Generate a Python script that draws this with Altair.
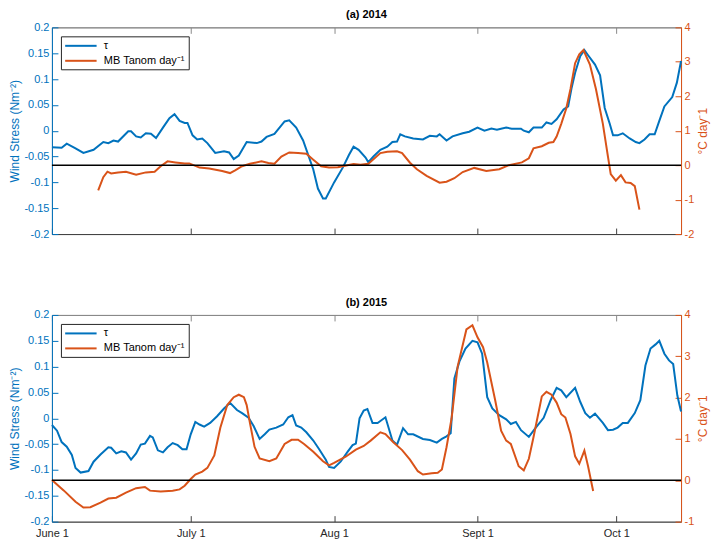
import altair as alt
import pandas as pd

BLUE = "#0072BD"
ORANGE = "#D95319"
AXC = "#404040"
TOPC = "#8a8a8a"
FONT = "Liberation Sans"

x_ticks = [0, 30, 61, 92, 122]
x_labels = ["June 1", "July 1", "Aug 1", "Sept 1", "Oct 1"]
x_span = [0, 136]
tau_ticks = [-0.2, -0.15, -0.1, -0.05, 0, 0.05, 0.1, 0.15, 0.2]
series_names = ["τ", "MB Tanom day⁻¹"]
zero_name = "zero"
zero_day = [0, 136]
zero_val = [0, 0]

# ---- (a) 2014 ----
tau14_day = [0, 2.1, 3.2, 5.1, 6.8, 9.0, 11.1, 12.2, 13.3, 14.3, 16.5, 17.1, 18.2, 19.2, 20.3, 21.4,
             22.5, 24, 25.4, 26.5, 27.6, 28.7, 29.3, 30.4, 31.4, 32.5, 33.6, 35.3, 37.2, 38.3, 39.3,
             40.4, 42.1, 44.3, 45.3, 46.4, 48.1, 50.3, 51.3, 52.8, 54.3, 56.5, 57.5, 58.6, 59.2, 61,
             62.9, 64.2, 65.2, 66.3, 67.8, 68.4, 69.5, 71, 72.5, 73.6, 74.6, 75.3, 76.3, 78.1, 80.2,
             81.7, 83.2, 83.8, 85.3, 86.6, 88.8, 90.2, 92, 93.5, 95, 96.2, 98.2, 99.4, 101.4, 102,
             103.1, 104.1, 105.9, 106.9, 108, 109.1, 110.6, 111.6, 112.3, 113.1, 114.2, 115.1, 115.9,
             117.4, 118.5, 119.5, 120.6, 121.3, 122.3, 123.4, 124.9, 126.2, 127, 128.1, 129.2, 130.3,
             131.3, 132.4, 134.1, 135.1, 136]
tau14_val = [-0.032, -0.033, -0.025, -0.034, -0.043, -0.037, -0.022, -0.024, -0.019, -0.021, -0.001,
             -0.001, -0.011, -0.013, -0.005, -0.006, -0.014, 0.006, 0.024, 0.032, 0.019, 0.015, 0.015,
             -0.009, -0.017, -0.015, -0.024, -0.043, -0.040, -0.042, -0.055, -0.048, -0.022, -0.024,
             -0.021, -0.012, -0.006, 0.018, 0.020, 0.006, -0.019, -0.075, -0.112, -0.131, -0.131,
             -0.100, -0.071, -0.047, -0.031, -0.037, -0.052, -0.061, -0.050, -0.037, -0.031, -0.022,
             -0.021, -0.007, -0.011, -0.015, -0.017, -0.010, -0.011, -0.007, -0.019, -0.011, -0.005,
             -0.002, 0.006, 0.000, 0.004, 0.002, 0.006, 0.004, 0.004, 0.000, -0.003, 0.006, 0.006,
             0.016, 0.013, 0.022, 0.041, 0.047, 0.081, 0.112, 0.144, 0.156, 0.146, 0.128, 0.107, 0.044,
             0.013, -0.009, -0.009, -0.005, -0.015, -0.022, -0.024, -0.017, -0.007, -0.007, 0.019,
             0.047, 0.065, 0.093, 0.135]
mb14_day = [10, 11.1, 12, 12.8, 14.3, 16, 18.2, 20.3, 22.2, 23.5, 25, 26.7, 28.7, 29.7, 31.9, 34,
            36.8, 38.5, 39.6, 41.1, 42.8, 45.3, 46.8, 48.1, 49.6, 51.3, 53.2, 55, 56.5, 58.2, 59.9,
            61.8, 63.9, 65.2, 66.7, 68.4, 71, 72.5, 74.6, 75.7, 77.4, 78.9, 81, 83.8, 85.3, 87, 88.8,
            91.3, 93.9, 96.7, 98.8, 101.6, 103.1, 104.1, 105.9, 107.4, 108.4, 109.1, 110.1, 111.2,
            112.1, 113.1, 114.0, 114.9, 116.3, 117.6, 119.1, 120.2, 120.8, 121.9, 123, 124, 125.1,
            126, 127]
mb14_val = [-0.73, -0.35, -0.19, -0.24, -0.21, -0.19, -0.28, -0.21, -0.19, -0.03, 0.11, 0.08, 0.05,
            0.05, -0.07, -0.10, -0.17, -0.23, -0.15, -0.03, 0.04, 0.11, 0.06, 0.04, 0.25, 0.37, 0.35,
            0.33, 0.16, -0.03, -0.07, -0.06, 0.0, 0.03, 0.01, 0.04, 0.35, 0.39, 0.40, 0.35, 0.07, -0.12,
            -0.31, -0.51, -0.48, -0.38, -0.20, -0.08, -0.17, -0.12, 0.0, 0.08, 0.20, 0.49, 0.55, 0.65,
            0.67, 0.83, 1.20, 1.65, 2.21, 2.96, 3.22, 3.34, 2.92, 2.21, 1.20, 0.25, -0.26, -0.45, -0.29,
            -0.50, -0.52, -0.61, -1.29]

# ---- (b) 2015 ----
tau15_day = [0, 1.1, 2.1, 3.2, 4.3, 5.1, 6.2, 7.9, 9, 10.5, 12.2, 12.8, 13.9, 15, 16, 17.1, 18.2,
             19.2, 20.1, 21.2, 21.8, 22.9, 24, 25, 26.1, 27.2, 28.2, 29.1, 30, 31, 31.9, 32.9, 34.2,
             35.7, 37.2, 38.5, 40, 41.1, 42.5, 43.6, 44.9, 46, 47, 48.5, 50, 51.1, 52, 52.8, 53.9, 55,
             56.5, 57.7, 59.2, 59.9, 61, 62.4, 63.9, 65, 65.7, 66.5, 67.4, 68.2, 69.3, 70.4, 72.1,
             73.6, 74.6, 75.9, 77, 78.1, 80.2, 81.7, 83.2, 84.3, 85.3, 86.2, 87, 88.1, 89.4, 90.9, 92,
             93, 94.1, 95.2, 96.7, 98.2, 99.2, 100.3, 101.4, 103.1, 104.6, 106.3, 107.8, 109.1, 110.1,
             111.2, 113.1, 114.2, 115.3, 116.3, 117.4, 119.1, 120.2, 121.3, 122.3, 123.4, 124.5, 126,
             127.2, 128.3, 129.4, 130.5, 131.3, 132.4, 133.4, 134.3, 135.2, 136]
tau15_val = [-0.013, -0.024, -0.046, -0.055, -0.071, -0.096, -0.105, -0.102, -0.084, -0.070, -0.056,
             -0.057, -0.068, -0.064, -0.066, -0.080, -0.068, -0.051, -0.049, -0.034, -0.037, -0.062,
             -0.066, -0.056, -0.048, -0.052, -0.060, -0.060, -0.031, -0.007, -0.012, -0.016, -0.009,
             0.004, 0.019, 0.030, 0.016, 0.010, 0.001, -0.015, -0.040, -0.031, -0.022, -0.018, -0.012,
             0.002, 0.006, -0.014, -0.018, -0.027, -0.043, -0.059, -0.080, -0.094, -0.096, -0.084,
             -0.065, -0.052, -0.049, 0.000, 0.015, 0.018, -0.009, -0.009, 0.002, -0.043, -0.051,
             -0.019, -0.031, -0.031, -0.040, -0.042, -0.047, -0.040, -0.035, -0.029, 0.077, 0.110,
             0.135, 0.150, 0.147, 0.125, 0.041, 0.019, 0.006, -0.002, -0.011, -0.007, -0.023, -0.036,
             -0.018, 0.001, 0.035, 0.059, 0.054, 0.041, 0.059, 0.032, 0.010, 0.001, 0.009, -0.009,
             -0.023, -0.022, -0.018, -0.009, -0.009, 0.010, 0.035, 0.102, 0.135, 0.143, 0.150, 0.125,
             0.112, 0.105, 0.044, 0.013]
mb15_day = [0, 2.6, 5.1, 6.8, 8.3, 10.5, 12.2, 13.9, 16, 18.2, 20.1, 21.2, 23.5, 26.1, 27.6, 28.7,
            30, 31, 32.5, 33.6, 34.6, 35.1, 36.4, 37.9, 39.3, 40.4, 41.5, 42.1, 42.8, 43.8, 44.9, 47,
            48.5, 50.3, 51.8, 53.2, 54.5, 56.5, 58.6, 59.9, 61, 63.5, 65.7, 67.4, 68.9, 71, 72.1, 73.8,
            75.7, 77.4, 79.1, 80.2, 82.1, 83.4, 84.3, 85.3, 86.4, 87.7, 89.6, 90.9, 92, 93.2, 94.1,
            95.8, 97.1, 98.2, 99.2, 100.9, 102, 103.1, 104.1, 105.9, 106.9, 108, 109.1, 110.1, 111,
            112.1, 113.1, 114, 115.1, 115.9, 117]
mb15_val = [0.01, -0.25, -0.52, -0.66, -0.65, -0.54, -0.44, -0.42, -0.30, -0.19, -0.16, -0.25, -0.27,
            -0.25, -0.22, -0.13, 0.03, 0.14, 0.21, 0.30, 0.50, 0.60, 1.27, 1.82, 2.01, 2.07, 2.01, 1.82,
            1.39, 0.81, 0.53, 0.46, 0.53, 0.88, 0.98, 0.98, 0.88, 0.69, 0.46, 0.36, 0.42, 0.57, 0.74,
            0.83, 0.96, 1.16, 1.12, 0.92, 0.73, 0.50, 0.22, 0.14, 0.17, 0.18, 0.26, 0.80, 1.50, 2.75,
            3.65, 3.75, 3.46, 3.22, 2.85, 1.95, 1.20, 0.96, 0.88, 0.34, 0.24, 0.52, 1.04, 2.03, 2.14,
            2.07, 1.88, 1.60, 1.52, 1.12, 0.58, 0.40, 0.72, 0.34, -0.26]

TICK = {"expr": "-6"}
x_expr = " : ".join(
    f"datum.value == {v} ? '{l}'" for v, l in zip(x_ticks[:-1], x_labels[:-1])
) + f" : '{x_labels[-1]}'"


def x_axis(orient, labels, color):
    return alt.Axis(orient=orient, values=x_ticks, labels=labels, labelExpr=x_expr,
                    labelFlush=False, title=None, grid=False, tickSize=TICK, labelPadding=12,
                    domainColor=color, tickColor=color, labelColor="#262626", labelFontSize=11,
                    labelFont=FONT)


def panel(tau_d, tau_v, mb_d, mb_v, rdom, title, show_x):
    tau_df = pd.DataFrame({"day": tau_d, "val": tau_v, "series": series_names[0]})
    mb_df = pd.concat([
        pd.DataFrame({"day": mb_d, "val": mb_v, "series": series_names[1]}),
        pd.DataFrame({"day": zero_day, "val": zero_val, "series": zero_name}),
    ], ignore_index=True)
    xs = alt.Scale(domain=x_span, nice=False, zero=False)
    cscale = alt.Scale(domain=series_names, range=[BLUE, ORANGE])
    legend = alt.Legend(orient="top-left", offset=9, title=None, strokeColor="#262626",
                        fillColor="white", padding=3, symbolType="M-1,0H5", symbolSize=110,
                        symbolStrokeWidth=2, labelFontSize=11, labelFont=FONT, labelColor="black",
                        rowPadding=3, labelOffset=27, labelLimit=300)
    rticks = list(range(rdom[0], rdom[1] + 1))
    rscale = alt.Scale(domain=rdom, nice=False, zero=False)
    raxis = alt.Axis(orient="right", values=rticks, labelExpr="'' + datum.value",
                     grid=False, title="°C day⁻1", titleColor=ORANGE, titleFontSize=12,
                     titleFontWeight="normal", titleFont=FONT, titleAngle=270,
                     titleBaseline="top", titlePadding=4,
                     labelColor=ORANGE, labelFontSize=11, labelFont=FONT,
                     tickColor=ORANGE, domainColor=ORANGE, tickSize=TICK, labelPadding=9)
    is_zero = alt.datum.series == zero_name
    blue = alt.Chart(tau_df).mark_line(strokeWidth=2).encode(
        x=alt.X("day:Q", scale=xs, axis=x_axis("bottom", show_x, AXC)),
        y=alt.Y("val:Q", scale=alt.Scale(domain=[-0.2, 0.2], nice=False, zero=False),
                axis=alt.Axis(values=tau_ticks, labelExpr="'' + datum.value", grid=False,
                              title="Wind Stress (Nm⁻²)", titleColor=BLUE, titleFontSize=12,
                              titleFontWeight="normal", titleFont=FONT, titlePadding=2,
                              labelColor=BLUE, labelFontSize=11, labelFont=FONT,
                              tickColor=BLUE, domainColor=BLUE, tickSize=TICK, labelPadding=9)),
        color=alt.Color("series:N", scale=cscale, legend=legend),
    )
    orange = alt.Chart(mb_df).mark_line().encode(
        x=alt.X("day:Q", scale=xs, axis=x_axis("top", False, TOPC)),
        y=alt.Y("val:Q", scale=rscale, axis=raxis),
        color=alt.condition(is_zero, alt.value("black"),
                            alt.Color("series:N", scale=cscale, legend=legend)),
        strokeWidth=alt.condition(is_zero, alt.value(1.5), alt.value(2)),
        detail="series:N",
    )
    return alt.layer(blue, orange).resolve_scale(y="independent").resolve_axis(
        x="independent"
    ).properties(
        width=630, height=207,
        title=alt.TitleParams(title, fontSize=11, fontWeight="bold", anchor="middle", offset=1,
                              color="black", font=FONT),
    )


top = panel(tau14_day, tau14_val, mb14_day, mb14_val, [-2, 4], "(a) 2014", False)
bottom = panel(tau15_day, tau15_val, mb15_day, mb15_val, [-1, 4], "(b) 2015", True)

chart = alt.vconcat(top, bottom, spacing=56).resolve_scale(
    color="independent", y="independent"
).properties(
    padding={"left": 0, "top": 0, "right": 2, "bottom": 0}
).configure(font=FONT).configure_view(stroke=TOPC, strokeWidth=1)

chart.save("out.html", embed_options={"renderer": "svg", "actions": False})
